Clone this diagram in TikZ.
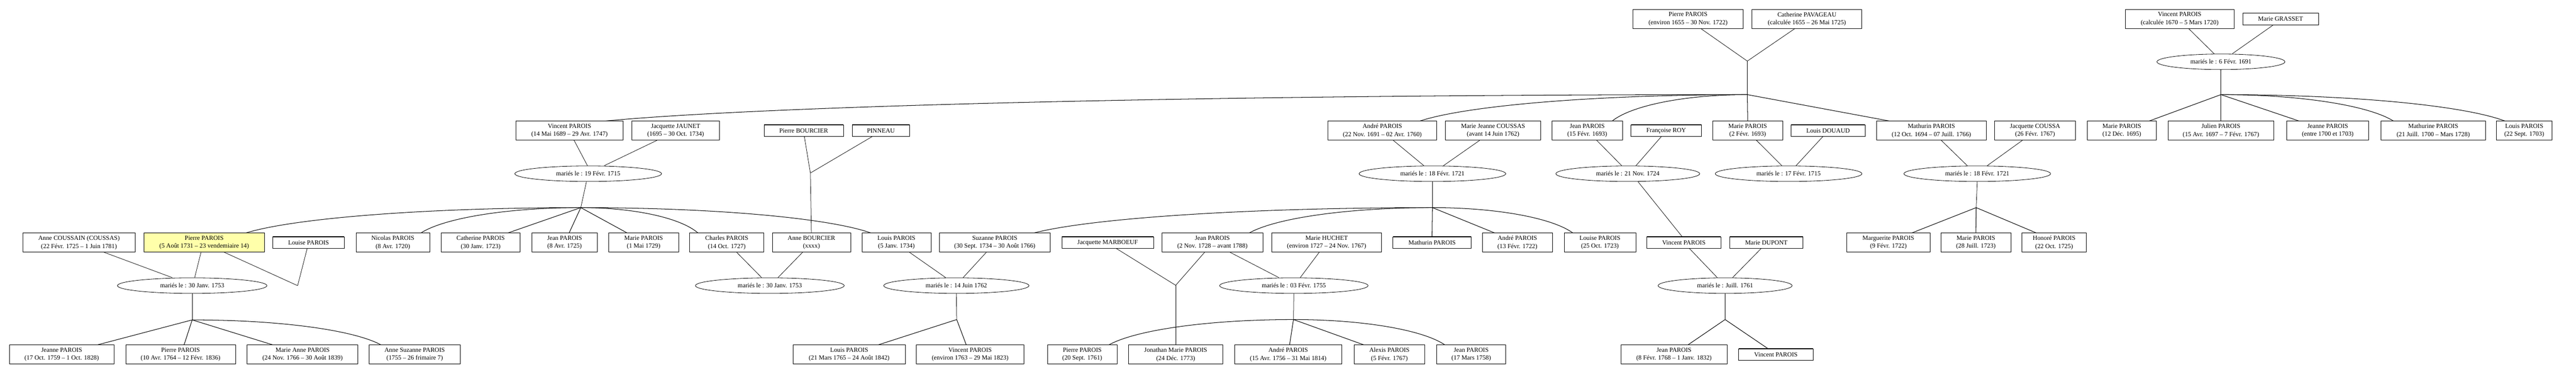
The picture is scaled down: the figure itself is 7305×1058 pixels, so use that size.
\documentclass[tikz,border=0pt]{standalone}
\usepackage{fontspec}
\setmainfont{Liberation Serif}
\usetikzlibrary{shapes.geometric,calc}
\definecolor{hilite}{RGB}{255,255,170}
\tikzset{
  bw/.style={minimum width=#1pt},
  pbox/.style={draw, line width=1pt, rectangle, inner sep=0pt, minimum height=54pt, align=center,
    path picture={\draw[line width=2pt] (path picture bounding box.north west) -- (path picture bounding box.north east);
                  \draw[line width=2pt] (path picture bounding box.south west) -- (path picture bounding box.south east);}},
  sbox/.style={pbox, minimum height=33pt},
  marr/.style={ellipse, draw, line width=1.2pt, minimum height=44pt, inner sep=0pt},
  spouse/.style={line width=1.1pt},
  kid/.style={line width=1.5pt},
}
\begin{document}
\begin{tikzpicture}[x=1pt, y=-1pt, font=\fontsize{18}{23}\selectfont]
\fill[white] (0,0) rectangle (7305,1058);
\useasboundingbox (0,0) rectangle (7305,1058);

% ---------- Row 1 ----------
\node[pbox,bw=313] (p1) at (4787,54) {Pierre PAROIS\\(environ 1655 – 30 Nov. 1722)};
\node[pbox,bw=311] (c1) at (5124,54) {Catherine PAVAGEAU\\(calculée 1655 – 26 Mai 1725)};
\node[pbox,bw=308] (v0) at (6181,54) {Vincent PAROIS\\(calculée 1670 – 5 Mars 1720)};
\node[sbox,bw=215] (mg) at (6467,54) {Marie GRASSET};
\node[marr,bw=363] (m0) at (6298,175) {mariés le : 6 Févr. 1691};
\coordinate (j0) at (4955,173);
\coordinate (f0) at (4955,268);
\coordinate (f00) at (6298,268);

% ---------- Row 2 ----------
\node[pbox,bw=304] (vp1) at (1615,370) {Vincent PAROIS\\(14 Mai 1689 – 29 Avr. 1747)};
\node[pbox,bw=248] (jj) at (1916,370) {Jacquette JAUNET\\(1695 – 30 Oct. 1734)};
\node[sbox,bw=225] (pb) at (2279,370) {Pierre BOURCIER};
\node[sbox,bw=163] (pin) at (2498,370) {PINNEAU};
\node[pbox,bw=308] (ap1) at (3920,370) {André PAROIS\\(22 Nov. 1691 – 02 Avr. 1760)};
\node[pbox,bw=270] (mjc) at (4234,370) {Marie Jeanne COUSSAS\\(avant 14 Juin 1762)};
\node[pbox,bw=200] (jp1) at (4501,370) {Jean PAROIS\\(15 Févr. 1693)};
\node[sbox,bw=200] (fr) at (4725,370) {Françoise ROY};
\node[pbox,bw=198] (mp1) at (4956,370) {Marie PAROIS\\(2 Févr. 1693)};
\node[sbox,bw=210] (ld) at (5184,370) {Louis DOUAUD};
\node[pbox,bw=310] (mat1) at (5477,370) {Mathurin PAROIS\\(12 Oct. 1694 – 07 Juill. 1766)};
\node[pbox,bw=229] (jc) at (5771,370) {Jacquette COUSSA\\(26 Févr. 1767)};
\node[pbox,bw=196] (mp2) at (6017,370) {Marie PAROIS\\(12 Déc. 1695)};
\node[pbox,bw=299] (jul) at (6298,370) {Julien PAROIS\\(15 Avr. 1697 – 7 Févr. 1767)};
\node[pbox,bw=232] (jea) at (6601,370) {Jeanne PAROIS\\(entre 1700 et 1703)};
\node[pbox,bw=297] (mtn) at (6900,370) {Mathurine PAROIS\\(21 Juill. 1700 – Mars 1728)};
\node[pbox,bw=157] (lp1) at (7158,370) {Louis PAROIS\\(22 Sept. 1703)};

\node[marr,bw=416] (m1) at (1668,492) {mariés le : 19 Févr. 1715};
\coordinate (jb) at (2298,490);
\node[marr,bw=416] (m2) at (4062,492) {mariés le : 18 Févr. 1721};
\node[marr,bw=408] (m3) at (4616,492) {mariés le : 21 Nov. 1724};
\node[marr,bw=416] (m4) at (5072,492) {mariés le : 17 Févr. 1715};
\node[marr,bw=416] (m5) at (5607,492) {mariés le : 18 Févr. 1721};
\coordinate (f1) at (1647,588);
\coordinate (f2) at (4062,588);
\coordinate (f3) at (5604,588);

% ---------- Row 3 ----------
\node[pbox,bw=318] (ac) at (224,687) {Anne COUSSAIN (COUSSAS)\\(22 Févr. 1725 – 1 Juin 1781)};
\node[pbox,bw=343,fill=hilite] (pp) at (579,687) {Pierre PAROIS\\(5 Août 1731 – 23 vendemiaire 14)};
\node[sbox,bw=203] (lou) at (875,687) {Louise PAROIS};
\node[pbox,bw=209] (nic) at (1114,687) {Nicolas PAROIS\\(8 Avr. 1720)};
\node[pbox,bw=224] (cat) at (1363,687) {Catherine PAROIS\\(30 Janv. 1723)};
\node[pbox,bw=186] (jp2) at (1601,687) {Jean PAROIS\\(8 Avr. 1725)};
\node[pbox,bw=198] (mp3) at (1825,687) {Marie PAROIS\\(1 Mai 1729)};
\node[pbox,bw=210] (cha) at (2061,687) {Charles PAROIS\\(14 Oct. 1727)};
\node[pbox,bw=222] (ab) at (2301,687) {Anne BOURCIER\\(xxxx)};
\node[pbox,bw=196] (lp2) at (2542,687) {Louis PAROIS\\(5 Janv. 1734)};
\node[pbox,bw=315] (suz) at (2821,687) {Suzanne PAROIS\\(30 Sept. 1734 – 30 Août 1766)};
\node[sbox,bw=260] (jm) at (3141,687) {Jacquette MARBOEUF};
\node[pbox,bw=287] (jp3) at (3438,687) {Jean PAROIS\\(2 Nov. 1728 – avant 1788)};
\node[pbox,bw=311] (mh) at (3762,687) {Marie HUCHET\\(environ 1727 – 24 Nov. 1767)};
\node[sbox,bw=222] (mat2) at (4061,687) {Mathurin PAROIS};
\node[pbox,bw=199] (ap2) at (4303,687) {André PAROIS\\(13 Févr. 1722)};
\node[pbox,bw=203] (lou2) at (4537,687) {Louise PAROIS\\(25 Oct. 1723)};
\node[sbox,bw=210] (vp2) at (4775,687) {Vincent PAROIS};
\node[sbox,bw=208] (md) at (5009,687) {Marie DUPONT};
\node[pbox,bw=236] (mgt) at (5355,687) {Marguerite PAROIS\\(9 Févr. 1722)};
\node[pbox,bw=198] (mp4) at (5603,687) {Marie PAROIS\\(28 Juill. 1723)};
\node[pbox,bw=182] (hon) at (5825,687) {Honoré PAROIS\\(22 Oct. 1725)};

\node[marr,bw=424] (m6) at (545,809) {mariés le : 30 Janv. 1753};
\coordinate (jpl) at (844,809);
\node[marr,bw=422] (m7) at (2183,809) {mariés le : 30 Janv. 1753};
\node[marr,bw=412] (m8) at (2712,809) {mariés le : 14 Juin 1762};
\coordinate (jmj) at (3334,808);
\node[marr,bw=421] (m9) at (3669,809) {mariés le : 03 Févr. 1755};
\node[marr,bw=380] (m10) at (4892,809) {mariés le : Juill. 1761};
\coordinate (f4) at (545,906);
\coordinate (f5) at (2713,905);
\coordinate (f6) at (3668,905);
\coordinate (f7) at (4892,905);

% ---------- Row 4 ----------
\node[pbox,bw=297] (jea2) at (175,1004) {Jeanne PAROIS\\(17 Oct. 1759 – 1 Oct. 1828)};
\node[pbox,bw=311] (pp2) at (512,1004) {Pierre PAROIS\\(10 Avr. 1764 – 12 Févr. 1836)};
\node[pbox,bw=314] (man) at (858,1004) {Marie Anne PAROIS\\(24 Nov. 1766 – 30 Août 1839)};
\node[pbox,bw=258] (asp) at (1176,1004) {Anne Suzanne PAROIS\\(1755 – 26 frimaire 7)};
\node[pbox,bw=318] (lp3) at (2408,1004) {Louis PAROIS\\(21 Mars 1765 – 24 Août 1842)};
\node[pbox,bw=306] (vp3) at (2751,1004) {Vincent PAROIS\\(environ 1763 – 29 Mai 1823)};
\node[pbox,bw=197] (pp3) at (3069,1004) {Pierre PAROIS\\(20 Sept. 1761)};
\node[pbox,bw=267] (jon) at (3334,1004) {Jonathan Marie PAROIS\\(24 Déc. 1773)};
\node[pbox,bw=304] (ap3) at (3653,1004) {André PAROIS\\(15 Avr. 1756 – 31 Mai 1814)};
\node[pbox,bw=200] (ale) at (3940,1004) {Alexis PAROIS\\(5 Févr. 1767)};
\node[pbox,bw=196] (jp4) at (4172,1004) {Jean PAROIS\\(17 Mars 1758)};
\node[pbox,bw=301] (jp5) at (4747,1004) {Jean PAROIS\\(8 Févr. 1768 – 1 Janv. 1832)};
\node[sbox,bw=211] (vp4) at (5036,1004) {Vincent PAROIS};

% ---------- spouse links ----------
\begin{scope}[spouse]
\draw ([xshift=37pt]p1.south) -- (j0);
\draw ([xshift=-35pt]c1.south) -- (j0);
\draw ([xshift=26pt]v0.south) -- ([xshift=-19pt]m0.north);
\draw ([xshift=-21pt]mg.south) -- ([xshift=32pt]m0.north);
\draw ([xshift=13pt]vp1.south) -- ([xshift=-2pt]m1.north);
\draw ([xshift=-53pt]jj.south) -- ([xshift=45pt]m1.north);
\draw ([xshift=2pt]pb.south) -- (jb);
\draw ([xshift=-25pt]pin.south) -- (jb);
\draw ([xshift=31pt]ap1.south) -- ([xshift=-24pt]m2.north);
\draw ([xshift=-38pt]mjc.south) -- ([xshift=31pt]m2.north);
\draw ([xshift=27pt]jp1.south) -- ([xshift=-17pt]m3.north);
\draw ([xshift=-14pt]fr.south) -- ([xshift=23pt]m3.north);
\draw ([xshift=25pt]mp1.south) -- ([xshift=-19pt]m4.north);
\draw ([xshift=-15pt]ld.south) -- ([xshift=21pt]m4.north);
\draw ([xshift=28pt]mat1.south) -- ([xshift=-28pt]m5.north);
\draw ([xshift=-36pt]jc.south) -- ([xshift=28pt]m5.north);
\draw ([xshift=71pt]ac.south) -- ([xshift=-56pt]m6.north);
\draw ([xshift=-9pt]pp.south) -- ([xshift=7pt]m6.north);
\draw ([xshift=57pt]pp.south) -- (jpl);
\draw ([xshift=-4pt]lou.south) -- (jpl);
\draw ([xshift=28pt]cha.south) -- ([xshift=-23pt]m7.north);
\draw ([xshift=-25pt]ab.south) -- ([xshift=23pt]m7.north);
\draw ([xshift=37pt]lp2.south) -- ([xshift=-30pt]m8.north);
\draw ([xshift=-24pt]suz.south) -- ([xshift=19pt]m8.north);
\draw ([xshift=25pt]jm.south) -- (jmj);
\draw ([xshift=-22pt]jp3.south) -- (jmj);
\draw ([xshift=50pt]jp3.south) -- ([xshift=-42pt]m9.north);
\draw ([xshift=-21pt]mh.south) -- ([xshift=18pt]m9.north);
\draw ([xshift=16pt]vp2.south) -- ([xshift=-22pt]m10.north);
\draw ([xshift=-15pt]md.south) -- ([xshift=21pt]m10.north);
% marriage to children stems
\draw (j0) -- (f0);
\draw (m0.south) -- (f00);
\draw ([xshift=-5pt]m1.south) -- (f1);
\draw (jb) -- (ab.north);
\draw (m2.south) -- (f2);
\draw (m5.south) -- (f3);
\draw ([xshift=29pt]m3.south) -- ([xshift=-5pt]vp2.north);
\draw (m6.south) -- (f4);
\draw (m8.south) -- (f5);
\draw (jmj) -- (jon.north);
\draw (m9.south) -- (f6);
\draw (m10.south) -- (f7);
\end{scope}

% ---------- children links ----------
\begin{scope}[kid]
% from f0
\draw (f0) .. controls +(-1457,0) and +(486,-45) .. ([xshift=103pt]vp1.north);
\draw (f0) .. controls +(-418,0) and +(139,-45) .. ([xshift=107pt]ap1.north);
\draw (f0) .. controls +(-172,0) and +(57,-45) .. ([xshift=71pt]jp1.north);
\draw (f0) -- (mp1.north);
\draw (f0) -- ([xshift=-120pt]mat1.north);
% from f00
\draw (f00) -- ([xshift=78pt]mp2.north);
\draw (f00) -- (jul.north);
\draw (f00) -- ([xshift=-82pt]jea.north);
\draw (f00) .. controls +(220,0) and +(-73,-45) .. ([xshift=-113pt]mtn.north);
\draw (f00) .. controls +(362,0) and +(-121,-45) .. ([xshift=-55pt]lp1.north);
% from f1
\draw (f1) .. controls +(-427,0) and +(142,-43) .. ([xshift=119pt]pp.north);
\draw (f1) .. controls +(-204,0) and +(68,-43) .. ([xshift=80pt]nic.north);
\draw (f1) -- ([xshift=78pt]cat.north);
\draw (f1) -- ([xshift=13pt]jp2.north);
\draw (f1) -- ([xshift=-47pt]mp3.north);
\draw (f1) .. controls +(149,0) and +(-50,-43) .. ([xshift=-82pt]cha.north);
\draw (f1) .. controls +(370,0) and +(-123,-43) .. ([xshift=-73pt]lp2.north);
% from f2
\draw (f2) .. controls +(-508,0) and +(169,-43) .. ([xshift=112pt]suz.north);
\draw (f2) .. controls +(-234,0) and +(78,-43) .. ([xshift=105pt]jp3.north);
\draw (f2) -- (mat2.north);
\draw (f2) -- ([xshift=-65pt]ap2.north);
\draw (f2) .. controls +(179,0) and +(-60,-43) .. ([xshift=-77pt]lou2.north);
% from f3
\draw (f3) -- ([xshift=67pt]mgt.north);
\draw (f3) -- (mp4.north);
\draw (f3) -- ([xshift=-51pt]hon.north);
% from f4
\draw (f4) -- ([xshift=102pt]jea2.north);
\draw (f4) -- ([xshift=10pt]pp2.north);
\draw (f4) -- ([xshift=-85pt]man.north);
\draw (f4) .. controls +(241,0) and +(-80,-43) .. ([xshift=-96pt]asp.north);
% from f5
\draw (f5) -- ([xshift=83pt]lp3.north);
\draw (f5) -- ([xshift=-11pt]vp3.north);
% from f6
\draw (f6) .. controls +(-235,0) and +(78,-43) .. ([xshift=76pt]pp3.north);
\draw (f6) -- ([xshift=4pt]ap3.north);
\draw (f6) -- ([xshift=-73pt]ale.north);
\draw (f6) .. controls +(193,0) and +(-64,-43) .. ([xshift=-75pt]jp4.north);
% from f7
\draw (f7) -- ([xshift=40pt]jp5.north);
\draw (f7) -- ([xshift=-23pt]vp4.north);
\end{scope}
\end{tikzpicture}
\end{document}
